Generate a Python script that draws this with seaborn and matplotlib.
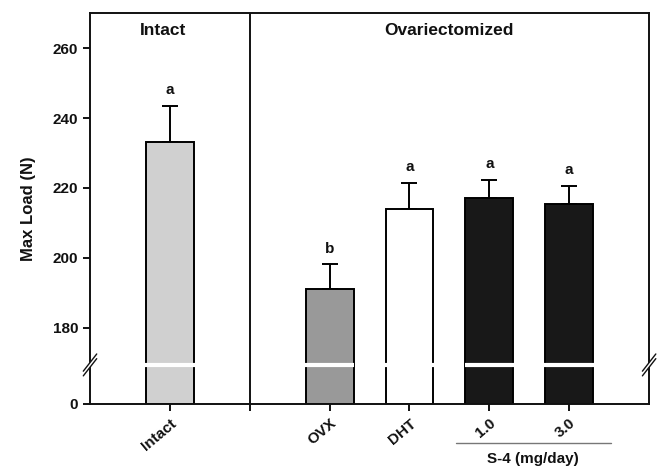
import numpy as np
import pandas as pd
import matplotlib
matplotlib.use("Agg")
import matplotlib.pyplot as plt
import seaborn as sns

# data
groups = ["Intact", "OVX", "DHT", "1.0", "3.0"]
positions = [1, 3, 4, 5, 6]
max_load = [233.2, 191.0, 214.0, 217.0, 215.4]
sem = [10.3, 7.2, 7.5, 5.4, 5.3]
letters = ["a", "b", "a", "a", "a"]
bar_colors = ["#d0d0d0", "#999999", "#ffffff", "#181818", "#181818"]
y_ticks = [0, 180, 200, 220, 240, 260]

# broken axis: 0..BRK squeezed, BRK..270 linear
BRK = 169.4
K_LOW = 39 / BRK
LOW = 39.0
K_HIGH = 3.5


def fwd(y):
    y = np.asarray(y, dtype=float)
    return np.where(y < BRK, y * K_LOW, LOW + (y - BRK) * K_HIGH)


def inv(p):
    p = np.asarray(p, dtype=float)
    return np.where(p < LOW, p / K_LOW, BRK + (p - LOW) / K_HIGH)


sns.set_style("ticks")
plt.rcParams["font.family"] = ["Liberation Sans", "DejaVu Sans"]
plt.rcParams["font.weight"] = "bold"
plt.rcParams["text.color"] = "#111111"
plt.rcParams["axes.labelcolor"] = "#111111"

df = pd.DataFrame({"pos": positions, "load": max_load, "group": groups})

fig = plt.figure(figsize=(6.57, 4.68), dpi=100)
ax = fig.add_axes([0.137, 0.137, 0.851, 0.835])
ax.set_yscale("function", functions=(fwd, inv))

sns.barplot(data=df, x="pos", y="load", hue="group", palette=bar_colors,
            native_scale=True, width=0.6, edgecolor="black", linewidth=1.4,
            legend=False, ax=ax, errorbar=None, zorder=2)

ax.errorbar(positions, max_load, yerr=[np.zeros(len(sem)), sem], fmt="none",
            ecolor="black", elinewidth=1.4, capsize=6, capthick=1.4, zorder=1)

for x, y, e, t in zip(positions, max_load, sem, letters):
    ax.annotate(t, (x, y + e), xytext=(0, 6), textcoords="offset points",
                ha="center", va="bottom", fontsize=11, fontweight="bold")

# white gap across bars at the break
for x in positions:
    ax.hlines(BRK, x - 0.31, x + 0.31, color="white", linewidth=3, zorder=3)

ax.set_xlim(0, 7)
ax.set_ylim(0, 270)
ax.set_yticks(y_ticks)
ax.set_yticklabels([str(v) for v in y_ticks], fontsize=11, fontweight="bold")
ax.minorticks_off()
ax.set_xticks([1, 2, 3, 4, 5, 6])
ax.set_xticklabels(["Intact", "", "OVX", "DHT", "1.0", "3.0"], rotation=40,
                   ha="right", rotation_mode="anchor", fontsize=11,
                   fontweight="bold")
ax.tick_params(axis="both", direction="out", length=5, width=1.4,
               colors="#111111", labelcolor="#111111")
ax.tick_params(axis="x", pad=4)
ax.set_xlabel("")
ax.set_ylabel("Max Load (N)", fontsize=12, fontweight="bold", labelpad=12)

for s in ax.spines.values():
    s.set_linewidth(1.4)
    s.set_color("#111111")

ax.axvline(2, color="#111111", linewidth=1.4, zorder=4)

ax.text(0.92, 265, "Intact", ha="center", va="center", fontsize=12.5, fontweight="bold")
ax.text(4.5, 265, "Ovariectomized", ha="center", va="center", fontsize=12.5,
        fontweight="bold")

# break marks on both spines
yb = fwd(BRK) / fwd(270)
for xa in (0.0, 1.0):
    for dy in (-0.006, 0.006):
        ax.plot([xa - 0.012, xa + 0.012], [yb + dy - 0.022, yb + dy + 0.022],
                transform=ax.transAxes, color="#111111", linewidth=1.0,
                clip_on=False, zorder=5)
    ax.plot([xa - 0.006, xa + 0.006], [yb - 0.011, yb + 0.011],
            transform=ax.transAxes, color="white", linewidth=2.2,
            clip_on=False, zorder=4.5)

# S-4 bracket under the dose labels
trans = ax.get_xaxis_transform()
ax.plot([4.58, 6.52], [-0.1, -0.1], transform=trans, color="#777777",
        linewidth=1.0, clip_on=False)
ax.text(5.55, -0.142, "S-4 (mg/day)", transform=trans, ha="center", va="center",
        fontsize=11, fontweight="bold")

fig.savefig("out.png", dpi=100)
